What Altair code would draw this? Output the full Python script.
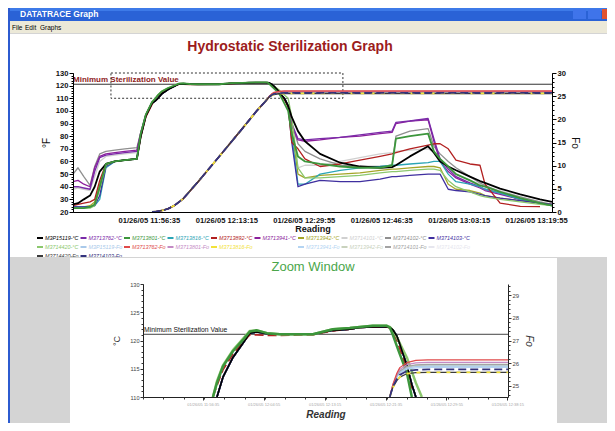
import altair as alt
import pandas as pd

F = "Liberation Sans"
W, H = 599, 415

# ---------------- data (time = seconds after 01/26/05 11:40:00) ----------------
t_temp = [15, 80, 155, 235, 295, 360, 440, 555, 685, 840, 890, 955, 1035,
          1079, 1112, 1161, 1243, 1325, 1382, 1440, 1522, 1628, 1899, 2063, 2202,
          2284, 2391, 2506, 2530, 2555, 2588, 2612, 2670, 2711, 2744, 2793,
          2840, 2920, 3010, 3205, 3465, 3720, 3980, 4135, 4185, 4365, 4600, 4675,
          4755, 4860, 4960, 5140, 5270, 5335, 5530, 5790, 6045, 6200]

zoom_common = [108.0, 110.0, 113.5, 117.0, 119.5, 121.3, 121.5, 121.2, 121.1, 121.1, 121.8, 122.0,
               122.3, 122.4, 122.4, 122.3, 121.9, 120.8, 119.4, 115.6, 112.2, 110.0, 104.0]

temp = {
    "M3P15119-°C": [26, 27, 30, 33, 40, 52, 58, 60, 61, 62, 80, 96, 106] + zoom_common +
                   [95, 84, 76, 66, 59, 56, 55, 55.5, 57, 64, 72, 67, 60, 56, 53, 48, 44.5, 43, 38.5, 34, 30, 28],
    "M3713762-°C": [40, 40, 39, 38, 52, 63, 65, 66, 67, 68, 82, 96, 106] + zoom_common +
                   [90, 78, 77, 78, 79, 81, 83, 84, 91, 92, 94, 78, 62, 54, 48, 43, 40, 38, 35, 30, 27, 25],
    "M3713801-°C": [23, 23, 23, 24, 26, 40, 58, 60, 61, 62, 82, 97, 107] +
                   [110.0, 112.5, 115.4, 118.1, 120.1, 121.6, 121.8, 121.3, 121.1, 121.1, 122.0, 122.2,
                    122.4, 122.6, 122.6, 122.3, 121.0, 119.0, 117.6, 114.3, 110.0, 106.0, 100.0] +
                   [82, 64, 60, 58, 56, 55, 55, 57, 78, 80, 82, 68, 62, 56, 50, 45, 41, 40, 36, 31, 27, 25],
    "M3713816-°C": [24, 24, 24, 24, 25, 30, 55, 60, 61, 62, 80, 96, 106] + zoom_common +
                   [80, 42, 42, 50, 53, 55, 56, 57, 57, 58, 59, 60, 60, 50, 44, 42, 40, 38, 35, 30, 27, 25],
    "M3713892-°C": [25, 26, 27, 28, 30, 45, 58, 60, 61, 62, 79, 95, 105] +
                   [110.0, 112.0, 114.8, 117.6, 119.8, 121.0, 121.0, 120.9, 120.9, 121.0, 121.7, 122.0,
                    122.3, 122.4, 122.4, 122.2, 121.5, 120.0, 118.5, 114.8, 111.5, 109.0, 103.0] +
                   [75, 70, 62, 56, 58, 61, 64, 66, 67, 70, 73, 74, 74, 70, 61, 58, 57, 42, 27, 24.5, 24.2, None],
    "M3713941-°C": [44, 45, 42, 40, 55, 64, 66, 67, 68, 69, 83, 97, 107] + zoom_common +
                   [88, 77, 76, 77, 79, 80, 82, 83, 90, 92, 93, 76, 60, 52, 47, 42, 39, 37, 34, 30, 27, 26],
    "M3713942-°C": [24, 24, 24, 25, 28, 42, 57, 60, 61, 62, 80, 96, 106] + zoom_common +
                   [85, 50, 47, 49, 50, 51, 53, 54, 54, 55, 56, 56, 55, 42, 38, 37, 35, 33, 31, 29, 27, 26],
    "M3714101-°C": [38, 39, 38, 37, 48, 60, 64, 65, 66, 67, 82, 96, 106] + zoom_common +
                   [85, 55, 57, 57, 60, 63, 66, 67, 68, 69, 70, 68, 62, 55, 50, 45, 42, 40, 37, 32, 28, 26],
    "M3714102-°C": [50, 55, 48, 41, 56, 66, 68, 69, 70, 71, 83, 97, 107] + zoom_common +
                   [90, 74, 68, 62, 57, 56, 56, 57, 80, 84, 86, 72, 66, 60, 55, 48, 43, 41, 36, 32, 28, 26],
    "M3714103-°C": [24, 24, 24, 24, 25, 33, 56, 60, 61, 62, 80, 96, 106] + zoom_common +
                   [75, 40, 42, 45, 44, 44, 46, 48, 48, 49, 50, 50, 50, 38, 37, 36, 34, 33, 31, 29, 27, 26],
    "M3714420-°C": [23, 23, 23, 23, 25, 38, 57, 60, 61, 62, 82, 97, 107] +
                   [110.0, 112.8, 115.6, 118.3, 120.3, 121.7, 121.8, 121.3, 121.1, 121.1, 122.0, 122.2,
                    122.4, 122.6, 122.6, 122.4, 121.8, 120.6, 119.5, 117.0, 114.5, 112.5, 110.0] +
                   [95, 55, 47, 47, 48, 49, 51, 52, 52, 53, 54, 54, 53, 45, 40, 36, 33, 32, 30, 28, 26, 25],
}

t_fo = [1035, 1079, 1161, 1243, 1325, 1440, 1628, 1899, 2063, 2202, 2391, 2506, 2530,
        2555, 2588, 2612, 2670, 2744, 2840, 3500, 6200]
fo_rise = [0, 0.05, 0.3, 0.7, 1.4, 2.9, 6.5, 11.9, 15.2, 18.0, 21.9, 24.0, 24.5]
fo = {
    "M3P15119-Fo": fo_rise + [25.0, 25.4, 25.6, 25.78, 25.85, 25.87, 25.87, 25.87],
    "M3713762-Fo": fo_rise + [25.05, 25.55, 25.8, 26.02, 26.12, 26.14, 26.14, 26.14],
    "M3713801-Fo": fo_rise + [25.03, 25.5, 25.72, 25.93, 26.01, 26.03, 26.03, 26.03],
    "M3713816-Fo": fo_rise + [24.92, 25.22, 25.38, 25.53, 25.58, 25.59, 25.59, 25.59],
    "M3713941-Fo": fo_rise + [24.98, 25.37, 25.56, 25.73, 25.79, 25.81, 25.81, 25.81],
    "M3713942-Fo": fo_rise + [25.0, 25.42, 25.62, 25.82, 25.89, 25.9, 25.9, 25.9],
    "M3714101-Fo": fo_rise + [25.0, 25.45, 25.65, 25.85, 25.92, 25.94, 25.94, 25.94],
    "M3714102-Fo": fo_rise + [25.0, 25.4, 25.6, 25.78, 25.84, 25.85, 25.85, 25.85],
    "M3714420-Fo": fo_rise + [24.92, 25.22, 25.38, 25.53, 25.58, 25.59, 25.59, 25.59],
    "M3714103-Fo": fo_rise + [24.95, 25.3, 25.48, 25.65, 25.7, 25.72, 25.72, 25.72],
}

colors = {
    "M3P15119-°C": "#000000", "M3713762-°C": "#7a2aa8", "M3713801-°C": "#3c963c",
    "M3713816-°C": "#2aa5b5", "M3713892-°C": "#b22020", "M3713941-°C": "#8c1f9c",
    "M3713942-°C": "#a5a528", "M3714101-°C": "#d0d0d0", "M3714102-°C": "#8f8f8f",
    "M3714103-°C": "#3f2f9f", "M3714420-°C": "#8cc86e",
    "M3P15119-Fo": "#a9c9ea", "M3713762-Fo": "#e04a4a", "M3713801-Fo": "#c48ac4",
    "M3713816-Fo": "#f2e23a", "M3713892-Fo": "#ffffff", "M3713941-Fo": "#b4d4f2",
    "M3713942-Fo": "#c9d2bd", "M3714101-Fo": "#a3a3a3", "M3714102-Fo": "#e6e6ee",
    "M3714420-Fo": "#3a3a3a", "M3714103-Fo": "#34347e",
}

legend_rows = [
    ["M3P15119-°C", "M3713762-°C", "M3713801-°C", "M3713816-°C", "M3713892-°C",
     "M3713941-°C", "M3713942-°C", "M3714101-°C", "M3714102-°C", "M3714103-°C"],
    ["M3714420-°C", "M3P15119-Fo", "M3713762-Fo", "M3713801-Fo", "M3713816-Fo",
     "M3713892-Fo", "M3713941-Fo", "M3713942-Fo", "M3714101-Fo", "M3714102-Fo"],
    ["M3714420-Fo", "M3714103-Fo"],
]

temp_order = ["M3714101-°C", "M3714102-°C", "M3713941-°C", "M3713762-°C", "M3713942-°C",
              "M3713816-°C", "M3714103-°C", "M3713892-°C", "M3714420-°C", "M3P15119-°C", "M3713801-°C"]
fo_order = ["M3714102-Fo", "M3713942-Fo", "M3713941-Fo", "M3P15119-Fo", "M3714101-Fo",
            "M3713801-Fo", "M3713762-Fo", "M3714420-Fo", "M3713816-Fo", "M3714103-Fo"]
fo_dash = {"M3713816-Fo": [4, 6], "M3714103-Fo": [8, 4]}

min_steril = 121.1
main_ticks = [995, 1995, 2995, 3995, 4995, 5995]
zoom_ticks = [995, 1495, 1995, 2495, 2995, 3495]
zoom_box = {"t": 505, "t2": 3500, "v": 110, "v2": 130}

# ---------------- geometry (pixels inside the canvas) ----------------
MX = ([15, 6200], [65, 544])
MY = ([20, 130], [204, 65])
MF = ([0, 30], [204, 65])
ZX = ([505, 3500], [135, 500])
ZY = ([110, 130], [389, 276])
ZF = ([24.5, 29.5], [389, 276])

LBL = "timeFormat(time(datetime(2005,0,26,11,40,0)) + datum.value*1000, '%m/%d/%y %H:%M:%S')"


def S(dom, rng):
    return alt.Scale(domain=dom, range=rng, nice=False, zero=False)


def frame(name, vals, ts):
    return pd.DataFrame([(name, a, b) for a, b in zip(ts, vals) if b is not None],
                        columns=["s", "t", "v"])


def line(df, xs, ys, color, width, dash=None, xaxis=None, yaxis=None):
    kw = dict(color=color, strokeWidth=width, strokeJoin="round", strokeCap="butt")
    if dash:
        kw["strokeDash"] = dash
    return alt.Chart(df).mark_line(**kw).encode(
        x=alt.X("t:Q", scale=S(*xs), axis=xaxis),
        y=alt.Y("v:Q", scale=S(*ys), axis=yaxis))


def minor(xs, ys, xaxis=None, yaxis=None):
    d = pd.DataFrame({"t": xs[0], "v": ys[0]})
    return alt.Chart(d).mark_point(opacity=0).encode(
        x=alt.X("t:Q", scale=S(*xs), axis=xaxis),
        y=alt.Y("v:Q", scale=S(*ys), axis=yaxis))


def rects(rows):
    d = pd.DataFrame(rows, columns=["x", "x2", "y", "y2", "c"])
    return alt.Chart(d).mark_rect().encode(
        x=alt.X("x:Q", scale=None), x2="x2:Q", y=alt.Y("y:Q", scale=None), y2="y2:Q",
        color=alt.Color("c:N", scale=None))


def texts(rows, **kw):
    d = pd.DataFrame(rows, columns=["x", "y", "text"])
    return alt.Chart(d).mark_text(font=F, **kw).encode(
        x=alt.X("x:Q", scale=None), y=alt.Y("y:Q", scale=None), text="text:N")


layers = []

# window chrome
layers.append(rects([
    [0, W, 0, 13, "#2a62d6"],
    [0, W, 0, 3, "#3d7ae8"],
    [0, W, 13, 25, "#ece9d8"],
    [0, 2, 0, H, "#2c5bd0"],
    [2, W, 26, 249, "#ffffff"],
    [565, 578, 1, 11, "#3f74ea"],
    [580, 593, 1, 11, "#3f74ea"],
    [594, W, 1, 11, "#e0532f"],
]))

# ---------- main chart ----------
ax_mx = alt.Axis(orient="bottom", offset=-211, values=main_ticks, labelExpr=LBL, labelFont=F,
                 labelFontSize=7.6, labelFontWeight="bold", labelColor="#111", ticks=False,
                 domainColor="#000", labelPadding=4, labelFlush=False, labelOverlap=False,
                 title="Reading", titleFont=F, titleFontSize=9, titleFontWeight="bold",
                 titleColor="#111", titlePadding=1, grid=False, zindex=1)
ax_my = alt.Axis(orient="left", offset=-65, values=list(range(20, 131, 10)), labelFont=F,
                 labelFontSize=7.6, labelFontWeight="bold", labelColor="#111", tickSize=4,
                 tickColor="#000", domainColor="#000", labelPadding=1, title="°F", titleFont=F,
                 titleFontSize=10, titleFontWeight="normal", titleColor="#111", titlePadding=4,
                 grid=False, zindex=1)
ax_mf = alt.Axis(orient="right", offset=-55, values=list(range(0, 31, 5)), labelFont=F,
                 labelFontSize=7.6, labelFontWeight="bold", labelColor="#111", tickSize=4,
                 tickColor="#000", domainColor="#000", labelPadding=1, title="Fo", titleFont=F,
                 titleFontSize=10, titleFontWeight="normal", titleColor="#111", titlePadding=4,
                 titleAngle=90, grid=False, zindex=1)
minor_y = alt.Axis(orient="left", offset=-65, values=list(range(20, 131, 2)), labels=False,
                   domain=False, tickSize=2, tickColor="#000", title=None, grid=False, zindex=1)
minor_f = alt.Axis(orient="right", offset=-55, values=list(range(0, 31, 1)), labels=False,
                   domain=False, tickSize=2, tickColor="#000", title=None, grid=False, zindex=1)

ref = pd.DataFrame({"t": [MX[0][0]], "t2": [MX[0][1]], "v": [min_steril],
                    "label": ["Minimum Sterilization Value"]})
layers.append(alt.Chart(ref).mark_rule(color="#333", strokeWidth=1).encode(
    x=alt.X("t:Q", scale=S(*MX), axis=None), x2="t2:Q",
    y=alt.Y("v:Q", scale=S(*MY), axis=None)))
layers.append(alt.Chart(ref).mark_text(font=F, fontSize=8, fontWeight="bold", color="#8e1b1b",
                                       align="left", baseline="bottom", dy=-0.5).encode(
    x=alt.X("t:Q", scale=S(*MX), axis=None), y=alt.Y("v:Q", scale=S(*MY), axis=None), text="label:N"))
box = pd.DataFrame([zoom_box])
layers.append(alt.Chart(box).mark_rect(fill=None, stroke="#333", strokeWidth=1, strokeDash=[2, 2]).encode(
    x=alt.X("t:Q", scale=S(*MX), axis=None), x2="t2:Q",
    y=alt.Y("v:Q", scale=S(*MY), axis=None), y2="v2:Q"))

first = True
for name in temp_order:
    df = frame(name, temp[name], t_temp)
    w = 1.8 if name in ("M3P15119-°C", "M3713801-°C") else 1.3
    if first:
        layers.append(line(df, MX, MY, colors[name], w, xaxis=ax_mx, yaxis=ax_my))
        first = False
    else:
        layers.append(line(df, MX, MY, colors[name], w))
first = True
for name in fo_order:
    df = frame(name, fo[name], t_fo)
    if first:
        layers.append(line(df, MX, MF, colors[name], 1.5, fo_dash.get(name), yaxis=ax_mf))
        first = False
    else:
        layers.append(line(df, MX, MF, colors[name], 1.8 if name in fo_dash else 1.5, fo_dash.get(name)))
layers.append(minor(MX, MY, yaxis=minor_y))
layers.append(minor(MX, MF, yaxis=minor_f))

# ---------- legend ----------
leg = pd.DataFrame([(n, r, c) for r, row in enumerate(legend_rows) for c, n in enumerate(row)],
                   columns=["name", "row", "col"])
all_names = list(colors.keys())
cscale = alt.Scale(domain=all_names, range=[colors[n] for n in all_names])
lx = alt.X("col:Q", scale=S([0, 10], [32, 467]), axis=None)
ly = alt.Y("row:Q", scale=S([0, 2], [230, 248]), axis=None)
layers.append(alt.Chart(leg).mark_point(shape="stroke", size=36, strokeWidth=2, filled=False, opacity=1).encode(
    x=lx, y=ly, color=alt.Color("name:N", scale=cscale, legend=None)))
layers.append(alt.Chart(leg).mark_text(font=F, fontSize=5.4, fontStyle="italic", align="left",
                                       baseline="middle", dx=5).encode(
    x=lx, y=ly, text="name:N", color=alt.Color("name:N", scale=cscale, legend=None)))

# cover below main panel + zoom panel
layers.append(rects([
    [2, W, 249, H, "#d4d4d4"],
    [62, 549, 250, H, "#ffffff"],
]))

# ---------- zoom window ----------
ax_zx = alt.Axis(orient="bottom", offset=-26, values=zoom_ticks, labelExpr=LBL, labelFont=F,
                 labelFontSize=4, labelColor="#a8a8a8", tickSize=3, tickColor="#333",
                 domainColor="#222", labelPadding=2, labelFlush=False, labelOverlap=False,
                 title="Reading", titleFont=F, titleFontSize=10, titleFontWeight="bold",
                 titleFontStyle="italic", titleColor="#333", titlePadding=3, grid=False, zindex=1)
ax_zy = alt.Axis(orient="left", offset=-135, values=[110, 115, 120, 125, 130], labelFont=F,
                 labelFontSize=5.6, labelColor="#444", tickSize=3, tickColor="#333",
                 domainColor="#222", labelPadding=1, title="°C", titleFont=F, titleFontSize=9,
                 titleFontWeight="normal", titleColor="#333", titlePadding=8, grid=False, zindex=1)
ax_zf = alt.Axis(orient="right", offset=-99, values=[25, 26, 27, 28, 29], labelFont=F,
                 labelFontSize=6, labelColor="#444", tickSize=3, tickColor="#333",
                 domainColor="#222", labelPadding=1, title="Fo", titleFont=F, titleFontSize=10,
                 titleFontStyle="italic", titleFontWeight="normal", titleColor="#333",
                 titlePadding=5, titleAngle=90, grid=False, zindex=1)
minor_zx = alt.Axis(orient="bottom", offset=-26, values=[505 + k * 500 / 3 for k in range(18)],
                    labels=False, domain=False, tickSize=2, tickColor="#333", title=None,
                    grid=False, zindex=1)
minor_zy = alt.Axis(orient="left", offset=-135, values=list(range(110, 131)), labels=False,
                    domain=False, tickSize=2, tickColor="#333", title=None, grid=False, zindex=1)
minor_zf = alt.Axis(orient="right", offset=-99, values=[24.6 + 0.2 * k for k in range(25)],
                    labels=False, domain=False, tickSize=2, tickColor="#333", title=None,
                    grid=False, zindex=1)

zref = pd.DataFrame({"t": [ZX[0][0]], "t2": [ZX[0][1]], "v": [min_steril],
                     "label": ["Minimum Sterilization Value"]})
layers.append(alt.Chart(zref).mark_rule(color="#444", strokeWidth=1).encode(
    x=alt.X("t:Q", scale=S(*ZX), axis=None), x2="t2:Q",
    y=alt.Y("v:Q", scale=S(*ZY), axis=None)))
layers.append(alt.Chart(zref).mark_text(font=F, fontSize=6.8, color="#111", align="left",
                                        baseline="bottom", dx=1, dy=-1).encode(
    x=alt.X("t:Q", scale=S(*ZX), axis=None), y=alt.Y("v:Q", scale=S(*ZY), axis=None), text="label:N"))

first = True
for name in temp_order:
    df = frame(name, temp[name], t_temp)
    df = df[(df.t >= ZX[0][0]) & (df.t <= ZX[0][1]) & (df.v >= 110) & (df.v <= 130)]
    w = 2.5 if name in ("M3713801-°C", "M3714420-°C") else 1.6
    dash = [9, 4] if name == "M3713892-°C" else None
    if first:
        layers.append(line(df, ZX, ZY, colors[name], w, dash, xaxis=ax_zx, yaxis=ax_zy))
        first = False
    else:
        layers.append(line(df, ZX, ZY, colors[name], w, dash))
first = True
for name in fo_order:
    df = frame(name, fo[name], t_fo)
    df = df[(df.t >= ZX[0][0]) & (df.t <= ZX[0][1]) & (df.v >= 24.5)]
    if first:
        layers.append(line(df, ZX, ZF, colors[name], 1.2, fo_dash.get(name), yaxis=ax_zf))
        first = False
    else:
        layers.append(line(df, ZX, ZF, colors[name], 1.8 if name in fo_dash else 1.2, fo_dash.get(name)))
layers.append(minor(ZX, ZY, xaxis=minor_zx, yaxis=minor_zy))
layers.append(minor(ZX, ZF, yaxis=minor_zf))

# ---------- texts ----------
layers.append(texts([[12, 6, "DATATRACE Graph"]], fontSize=8.5, fontWeight="bold", color="#ffffff",
                    align="left", baseline="middle"))
layers.append(texts([[4, 19.5, "File"], [17, 19.5, "Edit"], [32, 19.5, "Graphs"]], fontSize=6.5,
                    color="#000000", align="left", baseline="middle"))
layers.append(texts([[282, 39, "Hydrostatic Sterilization Graph"]], fontSize=14, fontWeight="bold",
                    color="#9c1c1c", align="center", baseline="middle"))
layers.append(texts([[305, 259, "Zoom Window"]], fontSize=13, color="#4aa64a",
                    align="center", baseline="middle"))

chart = alt.layer(*layers).resolve_scale(x="independent", y="independent", color="independent").properties(
    width=W, height=H, background="#d4d4d4", padding=0,
    autosize=alt.AutoSizeParams(type="none")
).configure_view(stroke=None)

chart.save("out.html", embed_options={"renderer": "svg", "actions": False})
